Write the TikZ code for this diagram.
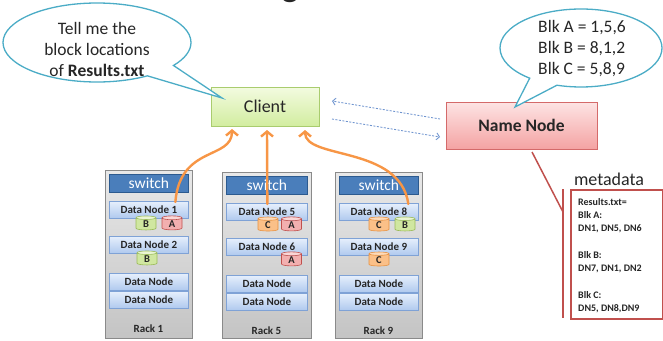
\documentclass[tikz,border=0pt]{standalone}
\usepackage{fontspec}
\setmainfont{Carlito}
\usetikzlibrary{shapes.geometric,shapes.callouts,arrows.meta,calc,shadows}
\definecolor{callb}{HTML}{4BACC6}
\definecolor{clientb}{HTML}{A9CC6E}
\definecolor{clienttop}{HTML}{F3FBE0}
\definecolor{clientbot}{HTML}{D2EDA0}
\definecolor{nnb}{HTML}{D46A6A}
\definecolor{nntop}{HTML}{FDE4E4}
\definecolor{nnbot}{HTML}{F4A3A3}
\definecolor{dnb}{HTML}{7FA2D6}
\definecolor{dntop}{HTML}{E6EFFC}
\definecolor{dnbot}{HTML}{AFC9EE}
\definecolor{swfill}{HTML}{4A7EBB}
\definecolor{swb}{HTML}{2C5A8F}
\definecolor{rackb}{HTML}{8A8A8A}
\definecolor{racktop}{HTML}{E8E8E8}
\definecolor{rackbot}{HTML}{C4C4C4}
\definecolor{orng}{HTML}{F79646}
\definecolor{dashb}{HTML}{7095CF}
\definecolor{metared}{HTML}{C0504D}
\definecolor{cgf}{HTML}{D0E7A0}
\definecolor{cge}{HTML}{EAF5D3}
\definecolor{cgb}{HTML}{9BBB59}
\definecolor{crf}{HTML}{F2AFAF}
\definecolor{cre}{HTML}{FAD6D6}
\definecolor{crb}{HTML}{C0504D}
\definecolor{cof}{HTML}{FBC088}
\definecolor{coe}{HTML}{FDDAB8}
\definecolor{cob}{HTML}{E8913F}
\definecolor{txt}{HTML}{262626}

\newcommand\rackunit[7]{%
  \node[rackbox, minimum width=#4pt, minimum height={338pt-#3pt}, anchor=north west] (#1) at (#2,#3) {};
  \node[switchbox, minimum width={#4pt-8pt}, anchor=north west] (#1sw) at (#2+4,#3+4) {switch};
  \node[dnbox, minimum width={#4pt-8pt}, anchor=north west] (#1a) at (#2+4,#3+31) {#5};
  \node[dnbox, minimum width={#4pt-8pt}, anchor=north west] (#1b) at (#2+4,#3+66) {#6};
  \node[dnbox, minimum width={#4pt-8pt}, anchor=north west] (#1c) at (#2+4,#3+103) {Data Node};
  \node[dnbox, minimum width={#4pt-8pt}, anchor=north west] (#1d) at (#2+4,#3+121) {Data Node};
  \node[racklabel, anchor=base] (#1lab) at (#2+#4/2,#3+162) {#7};
}

\begin{document}
\begin{tikzpicture}[x=1pt,y=-1pt,
  bubble/.style={ellipse callout, draw=callb, line width=1.3pt, fill=white, inner sep=0pt, outer sep=0pt, callout pointer arc=22},
  bubbletext/.style={align=center, text=txt, font=\fontsize{17.5}{21}\selectfont, inner sep=0pt},
  clientbox/.style={rectangle, draw=clientb, line width=0.8pt, top color=clienttop, bottom color=clientbot, minimum width=108pt, minimum height=39pt, font=\fontsize{18}{20}\selectfont, text=txt, drop shadow={opacity=0.25, shadow xshift=1pt, shadow yshift=-1.2pt}},
  nnbox/.style={rectangle, draw=nnb, line width=0.8pt, top color=nntop, bottom color=nnbot, minimum width=151pt, minimum height=47pt, font=\bfseries\fontsize{17.5}{20}\selectfont, text=txt, drop shadow={opacity=0.25, shadow xshift=1pt, shadow yshift=-1.2pt}},
  rackbox/.style={rectangle, draw=rackb, line width=0.8pt, top color=racktop, bottom color=rackbot, inner sep=0pt},
  switchbox/.style={rectangle, draw=swb, line width=0.8pt, fill=swfill, minimum height=18pt, inner sep=0pt, text=white, font=\fontsize{15.5}{16}\selectfont},
  dnbox/.style={rectangle, draw=dnb, line width=0.7pt, top color=dntop, bottom color=dnbot, minimum height=17pt, inner sep=0pt, text=txt, font=\bfseries\fontsize{11}{12}\selectfont},
  racklabel/.style={inner sep=0pt, text=txt, font=\bfseries\fontsize{11}{12}\selectfont},
  cyl/.style={cylinder, shape border rotate=90, aspect=0.6, draw, line width=0.6pt, minimum width=20pt, minimum height=14pt, inner sep=0pt, cylinder uses custom fill, text=txt, font=\bfseries\fontsize{10.5}{11}\selectfont},
  cylg/.style={cyl, draw=cgb, cylinder body fill=cgf, cylinder end fill=cge},
  cylr/.style={cyl, draw=crb, cylinder body fill=crf, cylinder end fill=cre},
  cylo/.style={cyl, draw=cob, cylinder body fill=cof, cylinder end fill=coe},
  oarrow/.style={draw=orng, line width=2.4pt, line cap=round, line join=round, -{Straight Barb[length=5pt,width=12pt]}},
  darrow/.style={draw=dashb, line width=0.9pt, dash pattern=on 2pt off 1.5pt, -{Straight Barb[length=3pt,width=7pt]}},
  metatext/.style={align=left, inner sep=0pt, text=txt, font=\bfseries\fontsize{10}{13.1}\selectfont}
]
\useasboundingbox (0,0) rectangle (663,340);

% cropped title fragment
\node[anchor=base, inner sep=0pt, text=txt, font=\fontsize{36}{36}\selectfont] (title) at (290,-3) {g};

% main nodes
\node[clientbox] (client) at (265,106.5) {Client};
\node[nnbox] (nn) at (521.5,125.5) {Name Node};

% callouts
\coordinate (tipL) at (222,98);
\coordinate (tipR) at (515,107);
\node[bubble, minimum width=188pt, minimum height=79pt, callout absolute pointer=(tipL)] (bubL) at (97,42.5) {};
\node[bubbletext] (bubLt) at (97,49) {Tell me the\\block locations\\of \textbf{Results.txt}};
\node[bubble, minimum width=162pt, minimum height=78pt, callout absolute pointer=(tipR)] (bubR) at (581,48) {};
\node[bubbletext, align=left] (bubRt) at (582,49) {Blk A = 1,5,6\\Blk B = 8,1,2\\Blk C = 5,8,9};

% dashed arrows between client and name node
\coordinate (d1s) at (440,119);
\coordinate (d1e) at (332,101);
\coordinate (d2s) at (332,119);
\coordinate (d2e) at (440,137);
\draw[darrow] (d1s) -- (d1e);
\draw[darrow] (d2s) -- (d2e);

% racks
\rackunit{ra}{105}{170}{87}{Data Node 1}{Data Node 2}{Rack 1}
\rackunit{rb}{222}{172}{89}{Data Node 5}{Data Node 6}{Rack 5}
\rackunit{rc}{335}{172}{87}{Data Node 8}{Data Node 9}{Rack 9}

% blocks
\node[cylg] (raB1) at (146,224) {B};
\node[cylr] (raA1) at (172,224) {A};
\node[cylg] (raB2) at (147,259) {B};
\node[cylo] (rbC1) at (268,225) {C};
\node[cylr] (rbA1) at (291.5,225) {A};
\node[cylr] (rbA2) at (291.5,260) {A};
\node[cylo] (rcC1) at (379,225) {C};
\node[cylg] (rcB1) at (405,225) {B};
\node[cylo] (rcC2) at (379,260) {C};

% orange arrows
\coordinate (o1s) at ($(raa.north)+(26.5,1)$);
\coordinate (o1e) at (232,129);
\coordinate (o2s) at ($(rba.north)+(0.5,1)$);
\coordinate (o2e) at (267,130);
\coordinate (o3s) at ($(rca.north)+(29.5,1)$);
\coordinate (o3e) at (305,130);
\draw[oarrow] (o1s) .. controls (180,145) and (232,160) .. (o1e);
\draw[oarrow] (o2s) -- (o2e);
\draw[oarrow] (o3s) .. controls (400,145) and (305,160) .. (o3e);

% metadata
\node[anchor=base, inner sep=0pt, text=txt, font=\fontsize{18}{20}\selectfont] (metal) at (609,185) {metadata};
\node[draw=metared, line width=1.5pt, minimum width=92pt, minimum height=129pt, anchor=north west, inner sep=0pt] (meta) at (570,189) {};
\node[metatext, anchor=north west] (metat) at (578,198.5) {Results.txt=\\Blk A:\\DN1, DN5, DN6\\[13.4pt]Blk B:\\DN7, DN1, DN2\\[13.4pt]Blk C:\\DN5, DN8,DN9};
\coordinate (br0) at (532,152);
\coordinate (br1) at (563,212);
\coordinate (br2) at (563,189);
\coordinate (br3) at (563,318);
\draw[metared, line width=1.5pt] (br0) -- (br1);
\draw[metared, line width=1.5pt] (br2) -- (br3);
\end{tikzpicture}
\end{document}
